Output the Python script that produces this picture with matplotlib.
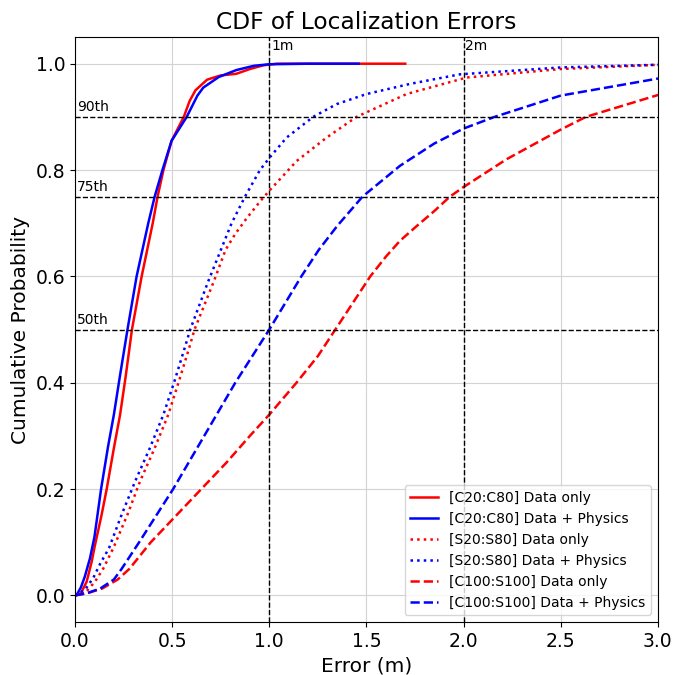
import numpy as np
import matplotlib.pyplot as plt

# CDF points (error in m, cumulative probability)
c20_data_x = [0.0, 0.03, 0.06, 0.086, 0.1, 0.137, 0.163, 0.2, 0.232, 0.26, 0.293, 0.343,
              0.4, 0.425, 0.455, 0.497, 0.56, 0.59, 0.62, 0.68, 0.75, 0.83, 0.9, 0.97, 1.04,
              1.3, 1.7]
c20_data_y = [0.0, 0.004, 0.026, 0.064, 0.09, 0.152, 0.2, 0.277, 0.34, 0.41, 0.5, 0.6,
              0.7, 0.75, 0.8, 0.855, 0.9, 0.93, 0.95, 0.97, 0.978, 0.981, 0.99, 0.997, 1.0,
              1.0, 1.0]

c20_phys_x = [0.0, 0.01, 0.03, 0.05, 0.077, 0.1, 0.134, 0.17, 0.2, 0.23, 0.27, 0.317,
              0.377, 0.41, 0.45, 0.497, 0.575, 0.63, 0.66, 0.74, 0.83, 0.92, 1.0, 1.2, 1.46]
c20_phys_y = [0.0, 0.002, 0.015, 0.035, 0.07, 0.11, 0.2, 0.28, 0.34, 0.41, 0.5, 0.6,
              0.7, 0.75, 0.8, 0.855, 0.9, 0.94, 0.955, 0.975, 0.988, 0.996, 0.999, 1.0, 1.0]

s20_data_x = [0.0, 0.05, 0.103, 0.146, 0.197, 0.27, 0.335, 0.41, 0.48, 0.535, 0.588, 0.615,
              0.715, 0.775, 0.825, 0.885, 0.955, 1.0, 1.141, 1.295, 1.449, 1.707, 2.016,
              2.5, 3.0]
s20_data_y = [0.0, 0.004, 0.026, 0.051, 0.089, 0.152, 0.215, 0.277, 0.34, 0.403, 0.466, 0.5,
              0.591, 0.65, 0.68, 0.71, 0.742, 0.761, 0.817, 0.861, 0.9, 0.943, 0.974,
              0.99, 0.998]

s20_phys_x = [0.0, 0.05, 0.094, 0.13, 0.175, 0.24, 0.31, 0.385, 0.455, 0.512, 0.565, 0.593,
              0.686, 0.806, 0.875, 0.952, 1.003, 1.089, 1.226, 1.347, 1.501, 1.724, 1.981,
              2.5, 3.0]
s20_phys_y = [0.0, 0.01, 0.033, 0.06, 0.089, 0.152, 0.215, 0.277, 0.34, 0.403, 0.466, 0.5,
              0.591, 0.7, 0.75, 0.8, 0.824, 0.861, 0.9, 0.924, 0.943, 0.962, 0.98,
              0.993, 0.998]

c100_data_x = [0.0, 0.07, 0.14, 0.22, 0.28, 0.39, 0.52, 0.65, 0.78, 0.9, 1.0, 1.14, 1.25,
               1.34, 1.43, 1.52, 1.6, 1.673, 1.76, 1.85, 1.93, 2.0, 2.22, 2.5, 2.63, 3.0, 3.2]
c100_data_y = [0.0, 0.005, 0.013, 0.03, 0.05, 0.1, 0.15, 0.2, 0.25, 0.3, 0.34, 0.4, 0.45,
               0.5, 0.55, 0.6, 0.637, 0.667, 0.695, 0.723, 0.75, 0.768, 0.82, 0.876, 0.9,
               0.941, 0.955]

c100_phys_x = [0.0, 0.06, 0.13, 0.2, 0.24, 0.33, 0.505, 0.665, 0.825, 1.0, 1.165, 1.255,
               1.35, 1.48, 1.673, 1.85, 2.0, 2.16, 2.5, 3.0, 3.2]
c100_phys_y = [0.0, 0.004, 0.013, 0.03, 0.05, 0.1, 0.2, 0.3, 0.4, 0.5, 0.6, 0.65,
               0.695, 0.75, 0.808, 0.85, 0.878, 0.9, 0.94, 0.972, 0.98]

percentiles = [0.5, 0.75, 0.9]
percentile_labels = ['50th', '75th', '90th']
distances = [1.0, 2.0]
distance_labels = ['1m', '2m']

fig = plt.figure(figsize=(6.76, 6.75), dpi=100)
ax = fig.add_axes([0.111, 0.0785, 0.862, 0.8665])

ax.plot(c20_data_x, c20_data_y, color='red', linestyle='-', lw=1.8, label='[C20:C80] Data only')
ax.plot(c20_phys_x, c20_phys_y, color='blue', linestyle='-', lw=1.8, label='[C20:C80] Data + Physics')
ax.plot(s20_data_x, s20_data_y, color='red', linestyle=':', lw=1.8, label='[S20:S80] Data only')
ax.plot(s20_phys_x, s20_phys_y, color='blue', linestyle=':', lw=1.8, label='[S20:S80] Data + Physics')
ax.plot(c100_data_x, c100_data_y, color='red', linestyle='--', lw=1.8, label='[C100:S100] Data only')
ax.plot(c100_phys_x, c100_phys_y, color='blue', linestyle='--', lw=1.8, label='[C100:S100] Data + Physics')

# percentile and distance reference lines
for p, lab in zip(percentiles, percentile_labels):
    ax.axhline(p, color='black', linestyle='--', lw=1)
    ax.text(0.01, p + 0.005, lab, fontsize=10, va='bottom', ha='left')
for d, lab in zip(distances, distance_labels):
    ax.axvline(d, color='black', linestyle='--', lw=1)
    ax.text(d + 0.01, 1.02, lab, fontsize=10, va='bottom', ha='left')

ax.set_xlim(0, 3.0)
ax.set_ylim(-0.05, 1.05)
ax.set_xlabel('Error (m)', fontsize=14.5)
ax.set_ylabel('Cumulative Probability', fontsize=14.5)
ax.set_title('CDF of Localization Errors', fontsize=16.8)
ax.tick_params(labelsize=13.5)
ax.grid(True, color='#d3d3d3', lw=0.8)
ax.legend(loc='lower right', fontsize=10)

fig.savefig('out.png', dpi=100)
